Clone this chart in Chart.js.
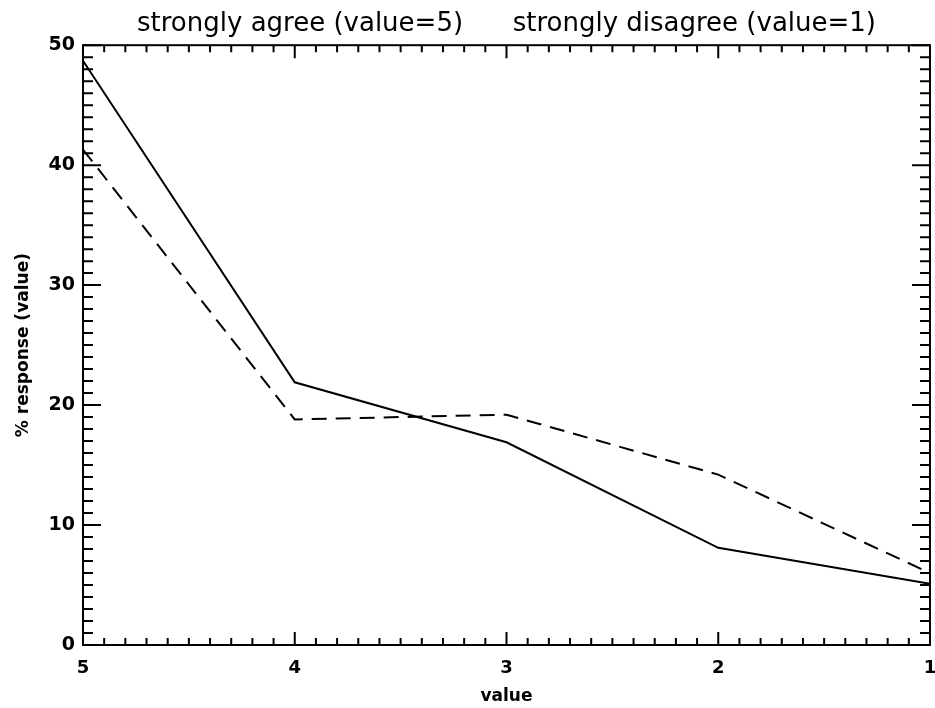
<!DOCTYPE html>
<html>
<head>
<meta charset="utf-8">
<script src="https://cdn.jsdelivr.net/npm/chart.js@4"></script>
<style>
  html, body { margin: 0; padding: 0; background: #fff; }
  #wrap { width: 935px; height: 708px; }
</style>
</head>
<body>
<div id="wrap"><canvas id="chart" width="935" height="708"></canvas></div>
<script>
// values
const xValues = [5, 4, 3, 2, 1];
const solidPct = [48.7, 21.9, 16.9, 8.1, 5.1];
const dashedPct = [41.3, 18.8, 19.2, 14.2, 6.0];
const xTicks = [5, 4, 3, 2, 1];
const yTicks = [0, 10, 20, 30, 40, 50];

const FONT = "'DejaVu Sans', sans-serif";

// box + inward ticks on all 4 sides, like the IDL plot
const boxTicks = {
  id: "boxTicks",
  afterDatasetsDraw(chart) {
    const { ctx, chartArea: a, scales: { x, y } } = chart;
    ctx.save();
    ctx.strokeStyle = "#000";
    ctx.lineWidth = 2;
    ctx.strokeRect(a.left, a.top, a.right - a.left, a.bottom - a.top);
    ctx.beginPath();
    for (let i = 10; i <= 50; i++) {
      const v = i / 10;
      const px = x.getPixelForValue(v);
      const len = i % 10 === 0 ? 13 : 7;
      ctx.moveTo(px, a.bottom); ctx.lineTo(px, a.bottom - len);
      ctx.moveTo(px, a.top); ctx.lineTo(px, a.top + len);
    }
    for (let v = 0; v <= 50; v++) {
      const py = y.getPixelForValue(v);
      const len = v % 10 === 0 ? 18 : 10;
      ctx.moveTo(a.left, py); ctx.lineTo(a.left + len, py);
      ctx.moveTo(a.right, py); ctx.lineTo(a.right - len, py);
    }
    ctx.stroke();
    ctx.restore();
  },
};

new Chart(document.getElementById("chart"), {
  type: "line",
  data: {
    datasets: [
      {
        data: xValues.map((v, i) => ({ x: v, y: solidPct[i] })),
        borderColor: "#000",
        borderWidth: 2,
        pointRadius: 0,
        tension: 0,
      },
      {
        data: xValues.map((v, i) => ({ x: v, y: dashedPct[i] })),
        borderColor: "#000",
        borderWidth: 2,
        borderDash: [15, 9],
        pointRadius: 0,
        tension: 0,
      },
    ],
  },
  options: {
    responsive: false,
    animation: false,
    layout: { padding: { left: 0, right: 5, top: 0, bottom: 0 } },
    plugins: {
      legend: { display: false },
      tooltip: { enabled: false },
      title: {
        display: true,
        fullSize: false,
        text: "strongly agree (value=5)      strongly disagree (value=1)",
        color: "#000",
        font: { family: FONT, size: 26, weight: "normal" },
        padding: { top: 9, bottom: 5 },
      },
    },
    scales: {
      x: {
        type: "linear",
        reverse: true,
        min: 1,
        max: 5,
        afterBuildTicks: (s) => { s.ticks = xTicks.map((v) => ({ value: v })); },
        afterFit: (s) => { s.height = 63; s.paddingLeft = 0; s.paddingRight = 0; },
        grid: { display: false, drawTicks: false },
        border: { display: false },
        ticks: {
          color: "#000",
          padding: 13,
          maxRotation: 0,
          font: { family: FONT, size: 18, weight: "bold" },
        },
        title: {
          display: true,
          text: "value",
          color: "#000",
          font: { family: FONT, size: 17, weight: "bold" },
          padding: { top: 0, bottom: 1 },
        },
      },
      y: {
        min: 0,
        max: 50,
        afterBuildTicks: (s) => { s.ticks = yTicks.map((v) => ({ value: v })); },
        afterFit: (s) => { s.width = 83; s.paddingTop = 0; s.paddingBottom = 0; },
        grid: { display: false, drawTicks: false },
        border: { display: false },
        ticks: {
          color: "#000",
          padding: 8,
          font: { family: FONT, size: 19, weight: "bold" },
        },
        title: {
          display: true,
          text: "% response (value)",
          color: "#000",
          font: { family: FONT, size: 17, weight: "bold" },
          padding: { top: 13, bottom: 0 },
        },
      },
    },
  },
  plugins: [boxTicks],
});
</script>
</body>
</html>
